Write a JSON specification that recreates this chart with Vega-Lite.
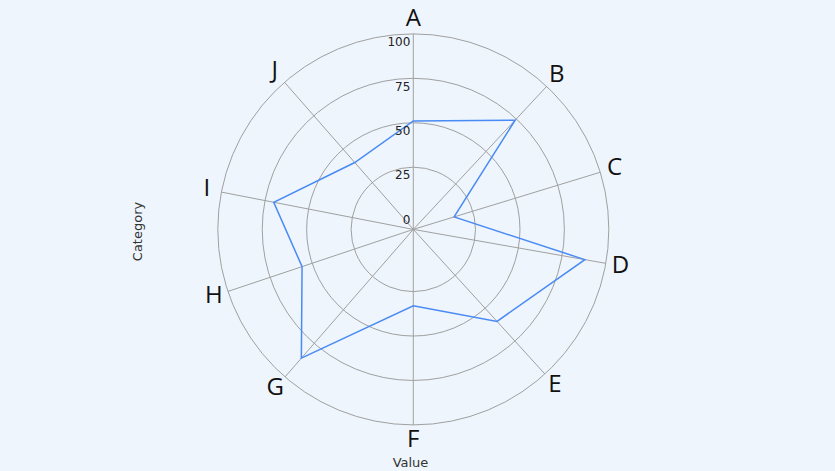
{
  "$schema": "https://vega.github.io/schema/vega-lite/v6.json",
  "width": 835,
  "height": 471,
  "autosize": "none",
  "padding": 0,
  "background": "#eef5fc",
  "config": {
    "view": {"stroke": null},
    "axis": {"labels": false, "ticks": false, "domain": false, "grid": false, "titleFont": "DejaVu Sans", "titleFontSize": 13, "titleFontWeight": "normal", "titleColor": "#333333"},
    "axisX": {"titleX": 410, "titleY": -4.3, "titleAlign": "center", "titleBaseline": "alphabetic", "titleAngle": 0},
    "axisY": {"titleX": 141, "titleY": 231, "titleAngle": -90, "titleAlign": "center", "titleBaseline": "alphabetic"}
  },
  "datasets": {
    "cats": [
      {"category": "A", "angle": 0, "value": 51},
      {"category": "B", "angle": 43, "value": 74},
      {"category": "C", "angle": 73, "value": 14},
      {"category": "D", "angle": 100, "value": 88},
      {"category": "E", "angle": 137.7, "value": 60},
      {"category": "F", "angle": 180, "value": 33},
      {"category": "G", "angle": 221, "value": 86},
      {"category": "H", "angle": 251.5, "value": 56},
      {"category": "I", "angle": 281, "value": 70},
      {"category": "J", "angle": 318.8, "value": 40}
    ],
    "rings": [
      {"ring": 0}, {"ring": 25}, {"ring": 50}, {"ring": 75}, {"ring": 100}
    ]
  },
  "layer": [
    {
      "data": {"name": "rings"},
      "transform": [{"filter": "datum.ring > 0"}],
      "mark": {"type": "arc", "theta": 0, "theta2": 6.2832, "fillOpacity": 0, "stroke": "#a0a0a0", "strokeWidth": 1},
      "encoding": {
        "x": {"datum": 0, "type": "quantitative", "title": "Value", "scale": {"domain": [-232.55, 237.27], "nice": false, "zero": false}},
        "y": {"datum": 0, "type": "quantitative", "title": "Category", "scale": {"domain": [-135.94, 129.07], "nice": false, "zero": false}},
        "radius": {"field": "ring", "type": "quantitative", "stack": null, "scale": {"type": "linear", "domain": [-10, 100], "range": [0, 195.5], "zero": false, "nice": false}, "legend": null},
        "radius2": {"datum": -10}
      }
    },
    {
      "data": {"name": "cats"},
      "transform": [
        {"calculate": "110 * sin(datum.angle * PI / 180)", "as": "sx"},
        {"calculate": "110 * cos(datum.angle * PI / 180)", "as": "sy"}
      ],
      "mark": {"type": "rule", "stroke": "#a0a0a0", "strokeWidth": 1},
      "encoding": {
        "x": {"field": "sx", "type": "quantitative", "title": "Value", "scale": {"domain": [-232.55, 237.27], "nice": false, "zero": false}},
        "y": {"field": "sy", "type": "quantitative", "title": "Category", "scale": {"domain": [-135.94, 129.07], "nice": false, "zero": false}},
        "x2": {"datum": 0},
        "y2": {"datum": 0}
      }
    },
    {
      "data": {"name": "cats"},
      "transform": [
        {"calculate": "(datum.value + 10) * sin(datum.angle * PI / 180)", "as": "px"},
        {"calculate": "(datum.value + 10) * cos(datum.angle * PI / 180)", "as": "py"}
      ],
      "mark": {"type": "line", "interpolate": "linear-closed", "stroke": "#4a8af4", "strokeWidth": 1.5},
      "encoding": {
        "x": {"field": "px", "type": "quantitative", "title": "Value", "scale": {"domain": [-232.55, 237.27], "nice": false, "zero": false}},
        "y": {"field": "py", "type": "quantitative", "title": "Category", "scale": {"domain": [-135.94, 129.07], "nice": false, "zero": false}},
        "order": {"field": "angle", "type": "quantitative"}
      }
    },
    {
      "data": {"name": "cats"},
      "transform": [
        {"calculate": "118.4 * sin(datum.angle * PI / 180)", "as": "lx"},
        {"calculate": "118.4 * cos(datum.angle * PI / 180)", "as": "ly"}
      ],
      "mark": {"type": "text", "font": "Open Sans", "fontSize": 24, "align": "center", "baseline": "middle", "color": "#111111"},
      "encoding": {
        "x": {"field": "lx", "type": "quantitative", "title": "Value", "scale": {"domain": [-232.55, 237.27], "nice": false, "zero": false}},
        "y": {"field": "ly", "type": "quantitative", "title": "Category", "scale": {"domain": [-135.94, 129.07], "nice": false, "zero": false}},
        "text": {"field": "category"}
      }
    },
    {
      "data": {"name": "rings"},
      "transform": [{"calculate": "datum.ring + 10", "as": "ry"}],
      "mark": {"type": "text", "font": "DejaVu Sans", "fontSize": 12, "align": "right", "baseline": "alphabetic", "dx": -3, "dy": 12.3, "color": "#222222"},
      "encoding": {
        "x": {"datum": 0, "type": "quantitative", "title": "Value", "scale": {"domain": [-232.55, 237.27], "nice": false, "zero": false}},
        "y": {"field": "ry", "type": "quantitative", "title": "Category", "scale": {"domain": [-135.94, 129.07], "nice": false, "zero": false}},
        "text": {"field": "ring"}
      }
    }
  ]
}
